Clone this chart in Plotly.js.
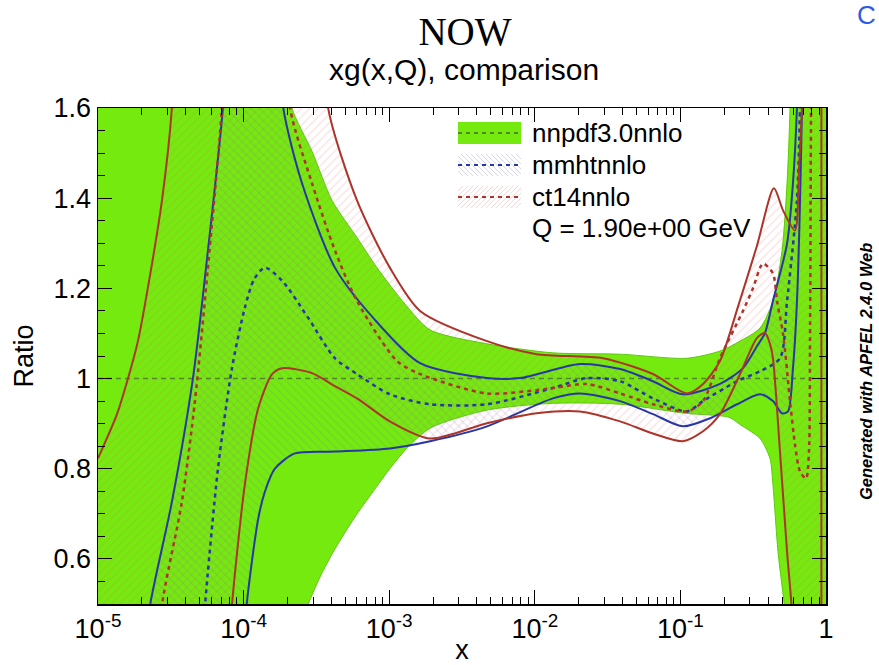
<!DOCTYPE html>
<html><head><meta charset="utf-8">
<script src="https://cdn.plot.ly/plotly-3.0.1.min.js"></script>
<style>html,body{margin:0;padding:0;background:#fff}#chart{width:879px;height:665px}</style>
</head><body><div id="chart"></div>
<script>
// ---------------- data (ratio to nnpdf3.0nnlo central, Q = 1.9 GeV) ----------------
// off-chart sentinels used where a curve leaves the visible range
const OFF_LO = 0.3, OFF_HI = 1.9;

// nnpdf3.0nnlo band
const nnpdfUpX = [1e-5, 1.5e-4, 2.05e-4, 2.15e-4, 2.95e-4, 4.05e-4, 6.0e-4, 8.24e-4, 1.3e-3, 1.91e-3, 4.70e-3, 1.33e-2, 3.85e-2, 1.11e-1, 1.87e-1, 2.57e-1, 3.52e-1, 4.32e-1, 4.99e-1, 5.40e-1, 5.66e-1, 5.8e-1, 0.90];
const nnpdfUpY = [1.9, 1.9, 1.68, 1.60, 1.504, 1.395, 1.313, 1.246, 1.163, 1.108, 1.077, 1.057, 1.054, 1.045, 1.061, 1.083, 1.112, 1.172, 1.284, 1.433, 1.60, 1.9, 1.9];
const nnpdfLoX = [1e-5, 2.29e-4, 2.77e-4, 3.35e-4, 4.24e-4, 5.82e-4, 7.74e-4, 1.01e-3, 1.32e-3, 1.91e-3, 4.70e-3, 1.33e-2, 3.85e-2, 1.08e-1, 2.16e-1, 2.57e-1, 3.52e-1, 4.12e-1, 4.32e-1, 4.68e-1, 5.23e-1, 5.35e-1, 0.60, 0.90];
const nnpdfLoY = [-1.2, 0.42, 0.498, 0.560, 0.622, 0.693, 0.749, 0.800, 0.845, 0.890, 0.930, 0.945, 0.943, 0.923, 0.914, 0.898, 0.867, 0.823, 0.765, 0.616, 0.482, 0.42, 0.3, 0.3];
const nnpdfCX = [1e-5, 0.90];
const nnpdfCY = [1, 1];

// mmhtnnlo band edges and central
const mmhtEdgeAX = [2.10e-5, 2.28e-5, 3.22e-5, 4.49e-5, 5.69e-5, 7.22e-5, 7.82e-5];
const mmhtEdgeAY = [0.4, 0.498, 0.727, 1.001, 1.284, 1.602, 1.8];
const mmhtUpX = [1.75e-4, 1.87e-4, 2.52e-4, 4.24e-4, 7.74e-4, 1.63e-3, 4.70e-3, 7.91e-3, 2.04e-2, 3.85e-2, 6.48e-2, 1.04e-1, 1.87e-1, 2.69e-1, 3.36e-1, 3.81e-1, 4.32e-1, 5.40e-1, 5.93e-1, 6.32e-1, 6.53e-1];
const mmhtUpY = [1.8, 1.602, 1.433, 1.246, 1.135, 1.034, 1.001, 1.001, 1.032, 1.021, 0.994, 0.965, 0.988, 1.023, 1.072, 1.101, 1.172, 1.299, 1.433, 1.602, 1.8];
const mmhtLoX = [1.01e-4, 1.05e-4, 1.26e-4, 1.40e-4, 1.64e-4, 2.25e-4, 4.24e-4, 1.01e-3, 1.91e-3, 4.70e-3, 1.33e-2, 2.04e-2, 3.85e-2, 6.48e-2, 1.04e-1, 1.60e-1, 2.45e-1, 3.52e-1, 4.32e-1, 4.99e-1, 5.48e-1, 5.93e-1, 6.32e-1, 6.84e-1, 6.95e-1];
const mmhtLoY = [0.4, 0.498, 0.689, 0.749, 0.800, 0.834, 0.838, 0.845, 0.861, 0.894, 0.956, 0.967, 0.950, 0.921, 0.894, 0.912, 0.943, 0.965, 0.950, 0.923, 0.927, 1.023, 1.172, 1.602, 1.8];
const mmhtCX = [5.17e-5, 5.43e-5, 6.67e-5, 8.32e-5, 1.02e-4, 1.18e-4, 1.40e-4, 1.84e-4, 2.77e-4, 4.24e-4, 6.01e-4, 1.01e-3, 1.91e-3, 4.70e-3, 1.33e-2, 2.28e-2, 3.85e-2, 6.48e-2, 1.11e-1, 1.43e-1, 2.45e-1, 3.52e-1, 4.83e-1, 5.40e-1, 6.32e-1, 6.63e-1, 6.73e-1];
const mmhtCY = [0.4, 0.498, 0.800, 1.023, 1.157, 1.22, 1.246, 1.217, 1.135, 1.045, 1.010, 0.965, 0.943, 0.943, 0.979, 1.001, 0.994, 0.956, 0.927, 0.950, 0.994, 1.016, 1.045, 1.172, 1.395, 1.602, 1.8];

// ct14nnlo band edges and central
const ct14EdgeAX = [1e-5, 1.35e-5, 1.61e-5, 1.88e-5, 2.20e-5, 2.75e-5, 3.22e-5, 3.38e-5];
const ct14EdgeAY = [0.823, 0.921, 1.001, 1.083, 1.201, 1.395, 1.602, 1.8];
const ct14UpX = [3.68e-4, 3.80e-4, 6.01e-4, 1.01e-3, 1.63e-3, 4.70e-3, 1.03e-2, 2.94e-2, 6.48e-2, 1.11e-1, 1.43e-1, 1.87e-1, 2.49e-1, 3.36e-1, 4.39e-1, 5.07e-1, 6.12e-1, 6.53e-1, 6.84e-1, 6.95e-1];
const ct14UpY = [1.8, 1.602, 1.395, 1.246, 1.150, 1.083, 1.054, 1.045, 1.010, 0.967, 0.988, 1.039, 1.16, 1.295, 1.422, 1.373, 1.328, 1.469, 1.602, 1.8];
const ct14LoX = [7.95e-5, 8.32e-5, 1.02e-4, 1.26e-4, 1.57e-4, 1.84e-4, 2.95e-4, 4.24e-4, 6.01e-4, 1.01e-3, 1.91e-3, 4.70e-3, 1.03e-2, 2.04e-2, 3.85e-2, 6.48e-2, 1.04e-1, 1.43e-1, 1.87e-1, 2.57e-1, 3.36e-1, 3.81e-1, 4.12e-1, 4.32e-1, 4.83e-1, 5.40e-1, 5.84e-1, 5.93e-1];
const ct14LoY = [0.4, 0.498, 0.765, 0.934, 1.010, 1.023, 1.012, 0.983, 0.956, 0.905, 0.867, 0.901, 0.923, 0.927, 0.905, 0.878, 0.861, 0.883, 0.921, 1.010, 1.090, 1.101, 1.077, 1.045, 0.838, 0.616, 0.482, 0.4];
const ct14EndX = [0.93, 0.93];
const ct14EndY = [1.9, 0.3];
const ct14CAX = [2.62e-5, 2.75e-5, 3.77e-5, 4.63e-5, 5.69e-5, 7.11e-5, 7.57e-5];
const ct14CAY = [0.4, 0.498, 0.727, 0.950, 1.246, 1.602, 1.8];
const ct14CX = [2.02e-4, 2.08e-4, 2.95e-4, 4.24e-4, 6.01e-4, 1.13e-3, 1.63e-3, 4.70e-3, 1.33e-2, 2.28e-2, 3.85e-2, 6.48e-2, 1.11e-1, 1.43e-1, 1.87e-1, 2.69e-1, 3.15e-1, 3.69e-1, 4.32e-1, 4.61e-1, 5.07e-1, 5.66e-1, 6.12e-1, 6.63e-1, 7.29e-1, 7.64e-1, 7.76e-1, 7.89e-1, 7.95e-1];
const ct14CY = [1.8, 1.602, 1.433, 1.284, 1.172, 1.039, 1.010, 0.967, 0.979, 0.988, 0.967, 0.943, 0.927, 0.950, 1.045, 1.15, 1.20, 1.255, 1.233, 1.172, 1.099, 0.950, 0.854, 0.794, 0.778, 0.838, 1.061, 1.602, 1.8];

// axis ticks and labels
const xTickVals = [1e-5, 1e-4, 1e-3, 1e-2, 1e-1, 1];
const xTickText = ['10<sup>-5</sup>', '10<sup>-4</sup>', '10<sup>-3</sup>', '10<sup>-2</sup>', '10<sup>-1</sup>', '1'];
const yTickVals = [0.6, 0.8, 1.0, 1.2, 1.4, 1.6];
const yTickText = ['0.6', '0.8', '1', '1.2', '1.4', '1.6'];
const legendNames = ['nnpdf3.0nnlo', 'mmhtnnlo', 'ct14nnlo'];
const legendNote = 'Q = 1.90e+00 GeV';

// ---------------- styles ----------------
const GREEN = '#74ea0f', GREEN_C = 'rgb(80,135,40)';
const BLUE = 'rgb(40,55,165)', RED = 'rgb(172,52,42)';
const FONT = 'Liberation Sans, Arial, sans-serif';
const SM = 0.75;
const rev = a => a.slice().reverse();
const gap = (...arrs) => arrs.reduce((acc, a, i) => i ? acc.concat([null], a) : acc.concat(a), []);

const traces = [];
// nnpdf band
traces.push({x: nnpdfUpX.concat(rev(nnpdfLoX)), y: nnpdfUpY.concat(rev(nnpdfLoY)), mode: 'lines', fill: 'toself',
  fillcolor: GREEN, line: {width: 1, color: 'rgb(95,200,20)', shape: 'spline', smoothing: SM}, hoverinfo: 'skip'});
// mmht hatch
traces.push({x: mmhtEdgeAX.concat(mmhtUpX, rev(mmhtLoX)), y: mmhtEdgeAY.concat(mmhtUpY, rev(mmhtLoY)), mode: 'lines', fill: 'toself',
  fillcolor: 'rgba(0,0,0,0)', fillpattern: {shape: '\\', fgcolor: 'rgba(90,90,215,0.17)', bgcolor: 'rgba(0,0,0,0)', size: 6, solidity: 0.2},
  line: {width: 0, shape: 'spline', smoothing: SM}, hoverinfo: 'skip'});
// ct14 hatch
traces.push({x: [ct14EdgeAX[0]].concat(ct14EdgeAX, ct14UpX, ct14EndX, rev(ct14LoX)), y: [OFF_LO].concat(ct14EdgeAY, ct14UpY, ct14EndY, rev(ct14LoY)),
  mode: 'lines', fill: 'toself', fillcolor: 'rgba(0,0,0,0)',
  fillpattern: {shape: '/', fgcolor: 'rgba(225,100,100,0.2)', bgcolor: 'rgba(0,0,0,0)', size: 6, solidity: 0.2},
  line: {width: 0, shape: 'spline', smoothing: SM}, hoverinfo: 'skip'});
// central lines and edges
traces.push({x: nnpdfCX, y: nnpdfCY, mode: 'lines', line: {color: GREEN_C, width: 1.5, dash: '5px,4px'}});
traces.push({x: gap(mmhtEdgeAX, mmhtUpX, mmhtLoX), y: gap(mmhtEdgeAY, mmhtUpY, mmhtLoY), mode: 'lines', connectgaps: false,
  line: {color: BLUE, width: 2, shape: 'spline', smoothing: SM}});
traces.push({x: mmhtCX, y: mmhtCY, mode: 'lines', line: {color: BLUE, width: 2.5, dash: '4px,4px', shape: 'spline', smoothing: SM}});
traces.push({x: gap(ct14EdgeAX, ct14UpX, ct14LoX, ct14EndX), y: gap(ct14EdgeAY, ct14UpY, ct14LoY, ct14EndY), mode: 'lines', connectgaps: false,
  line: {color: RED, width: 2, shape: 'spline', smoothing: SM}});
traces.push({x: gap(ct14CAX, ct14CX), y: gap(ct14CAY, ct14CY), mode: 'lines', connectgaps: false,
  line: {color: RED, width: 2.5, dash: '4px,4px', shape: 'spline', smoothing: SM}});

// ---------------- legend drawn with shapes ----------------
const L = 98, R = 826, T = 108, B = 604;
const PX = p => (p - L) / (R - L), PY = p => (B - p) / (B - T);
function hatch(x0, y0, x1, y1, step, dir) {
  let d = '';
  const h = y1 - y0;
  for (let s = -h; s < (x1 - x0); s += step) {
    const xa = x0 + s;
    const t0 = Math.max(0, (x0 - xa) / h), t1 = Math.min(1, (x1 - xa) / h);
    if (t0 >= t1) continue;
    const ya = dir > 0 ? y1 : y0, sg = dir > 0 ? -1 : 1;
    d += `M${PX(xa + t0 * h)},${PY(ya + sg * t0 * h)}L${PX(xa + t1 * h)},${PY(ya + sg * t1 * h)}`;
  }
  return d;
}
const rows = [133, 165, 197, 228];
const shapes = [
  {type: 'rect', xref: 'paper', yref: 'paper', x0: PX(458), x1: PX(521), y0: PY(144), y1: PY(122), fillcolor: GREEN, line: {width: 0}},
  {type: 'line', xref: 'paper', yref: 'paper', x0: PX(458), x1: PX(521), y0: PY(rows[0]), y1: PY(rows[0]), line: {color: GREEN_C, width: 2, dash: '4px,4px'}},
  {type: 'path', xref: 'paper', yref: 'paper', path: hatch(458, 154, 521, 176, 5, -1), line: {color: 'rgba(120,120,220,0.3)', width: 1}},
  {type: 'line', xref: 'paper', yref: 'paper', x0: PX(458), x1: PX(521), y0: PY(rows[1]), y1: PY(rows[1]), line: {color: BLUE, width: 2, dash: '4px,4px'}},
  {type: 'path', xref: 'paper', yref: 'paper', path: hatch(458, 186, 521, 208, 5, 1), line: {color: 'rgba(230,120,120,0.3)', width: 1}},
  {type: 'line', xref: 'paper', yref: 'paper', x0: PX(458), x1: PX(521), y0: PY(rows[2]), y1: PY(rows[2]), line: {color: RED, width: 2, dash: '4px,4px'}}
];
const annotations = legendNames.concat([legendNote]).map((t, i) => ({
  text: t, xref: 'paper', yref: 'paper', x: PX(530), y: PY(rows[i]), xanchor: 'left', yanchor: 'middle',
  showarrow: false, font: {family: FONT, size: 26, color: '#000'}
}));
annotations.push({text: 'xg(x,Q), comparison', xref: 'paper', yref: 'paper', x: PX(464), y: PY(69), xanchor: 'center', yanchor: 'middle',
  showarrow: false, font: {family: FONT, size: 30, color: '#000'}});
annotations.push({text: '<b><i>Generated with APFEL 2.4.0 Web</i></b>', xref: 'paper', yref: 'paper', x: PX(866), y: PY(372), textangle: -90,
  xanchor: 'center', yanchor: 'middle', showarrow: false, font: {family: FONT, size: 16.5, color: '#000'}});
annotations.push({text: 'C', xref: 'paper', yref: 'paper', x: PX(866), y: PY(15), xanchor: 'center', yanchor: 'middle',
  showarrow: false, font: {family: FONT, size: 26, color: '#2a5be8'}});

const minorX = [];
for (let e = -5; e < 0; e++) for (let d = 2; d <= 9; d++) minorX.push(d * Math.pow(10, e));

const axisCommon = {showgrid: false, zeroline: false, showline: true, linecolor: '#000', linewidth: 1.5, mirror: 'allticks',
  ticks: 'inside', ticklen: 14, tickwidth: 1, tickcolor: '#000', tickfont: {family: FONT, size: 27, color: '#000'}};

const layout = {
  width: 879, height: 665, margin: {l: L, r: 879 - R, t: T, b: 665 - B},
  paper_bgcolor: '#fff', plot_bgcolor: '#fff', showlegend: false,
  title: {text: 'NOW', font: {family: 'Liberation Serif, Times New Roman, serif', size: 39, color: '#000'},
    xref: 'container', yref: 'container', x: 465 / 879, y: 1 - 31 / 665, xanchor: 'center', yanchor: 'middle'},
  xaxis: Object.assign({}, axisCommon, {type: 'log', range: [-5, 0], tickmode: 'array', tickvals: xTickVals, ticktext: xTickText,
    minor: {tickmode: 'array', tickvals: minorX, ticks: 'inside', ticklen: 7, tickcolor: '#000'},
    title: {text: 'x', font: {family: FONT, size: 27, color: '#000'}, standoff: 4}}),
  yaxis: Object.assign({}, axisCommon, {range: [0.5, 1.6], tickmode: 'array', tickvals: yTickVals, ticktext: yTickText,
    minor: {dtick: 0.05, tick0: 0.5, ticks: 'inside', ticklen: 7, tickcolor: '#000'},
    title: {text: 'Ratio', font: {family: FONT, size: 27, color: '#000'}, standoff: 12}}),
  shapes: shapes, annotations: annotations
};
Plotly.newPlot('chart', traces, layout, {staticPlot: true, displayModeBar: false});
</script></body></html>
